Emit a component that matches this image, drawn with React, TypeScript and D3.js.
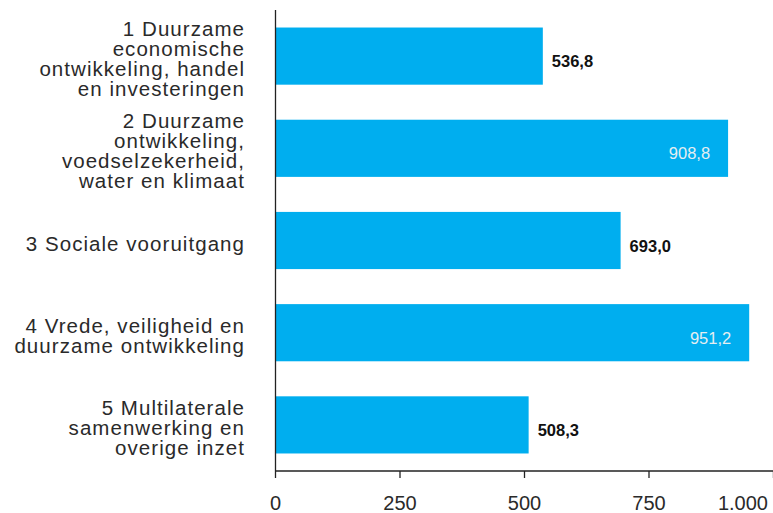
import React from "react";
import * as d3 from "d3";

const categories: string[][] = [
  ["1 Duurzame", "economische", "ontwikkeling, handel", "en investeringen"],
  ["2 Duurzame", "ontwikkeling,", "voedselzekerheid,", "water en klimaat"],
  ["3 Sociale vooruitgang"],
  ["4 Vrede, veiligheid en", "duurzame ontwikkeling"],
  ["5 Multilaterale", "samenwerking en", "overige inzet"],
];
const values: number[] = [536.8, 908.8, 693.0, 951.2, 508.3];
const valueLabels: string[] = ["536,8", "908,8", "693,0", "951,2", "508,3"];
const tickValues: number[] = [0, 250, 500, 750, 1000];
const tickLabels: string[] = ["0", "250", "500", "750", "1.000"];

const W = 773;
const H = 513;
const left = 275.5;
const right = 773.5;
const top = 10;
const axisY = 471;
const barColor = "#00AEEF";
const font = "'Liberation Sans', Arial, sans-serif";

export default function App() {
  const x = d3.scaleLinear().domain([0, 1000]).range([left, right]);
  const y = d3
    .scaleBand<number>()
    .domain(d3.range(values.length))
    .range([top, axisY])
    .paddingInner(0.38)
    .paddingOuter(0.19);
  const bw = y.bandwidth();

  return (
    <svg
      width={W}
      height={H}
      style={{ position: "absolute", left: 0, top: 0, background: "#fff" }}
      fontFamily={font}
    >
      {values.map((v, i) => {
        const y0 = y(i)!;
        const cy = y0 + bw / 2;
        const inside = v > 800;
        return (
          <g key={i}>
            <rect x={x(0)} y={y0} width={x(v) - x(0)} height={bw} fill={barColor} />
            <text
              x={inside ? x(v) - 18 : x(v) + 9}
              y={cy + 11}
              textAnchor={inside ? "end" : "start"}
              fontSize={16.5}
              fontWeight={inside ? 400 : 700}
              fill={inside ? "#e6eef2" : "#111"}
            >
              {valueLabels[i]}
            </text>
            {categories[i].map((line, j) => (
              <text
                key={j}
                x={245}
                y={cy + (j - (categories[i].length - 1) / 2) * 20 + 10}
                textAnchor="end"
                fontSize={20.5}
                letterSpacing={1.05}
                fill="#2a2a2a"
              >
                {line}
              </text>
            ))}
          </g>
        );
      })}
      <line x1={left} x2={left} y1={top} y2={axisY} stroke="#222" strokeWidth={1.3} />
      <line x1={left} x2={W} y1={axisY} y2={axisY} stroke="#222" strokeWidth={1.3} />
      {tickValues.map((t, i) => {
        const last = i === tickValues.length - 1;
        return (
          <g key={t}>
            <line x1={x(t)} x2={x(t)} y1={axisY} y2={axisY + 7} stroke="#222" strokeWidth={1.3} />
            <text
              x={last ? 768 : x(t)}
              y={510}
              textAnchor={last ? "end" : "middle"}
              fontSize={20}
              fill="#2a2a2a"
            >
              {tickLabels[i]}
            </text>
          </g>
        );
      })}
    </svg>
  );
}
